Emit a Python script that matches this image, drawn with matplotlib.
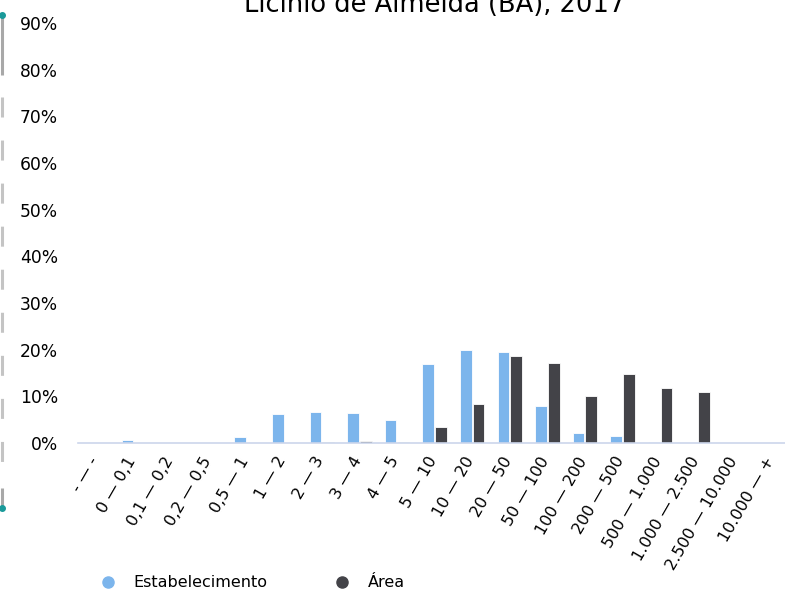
import matplotlib.pyplot as plt
import matplotlib.transforms as mtransforms
import numpy as np
from matplotlib.lines import Line2D

categorias = ["- — -", "0 — 0,1", "0,1 — 0,2", "0,2 — 0,5", "0,5 — 1", "1 — 2",
              "2 — 3", "3 — 4", "4 — 5", "5 — 10", "10 — 20", "20 — 50",
              "50 — 100", "100 — 200", "200 — 500", "500 — 1.000",
              "1.000 — 2.500", "2.500 — 10.000", "10.000 — +"]
estabelecimento = [0, 0.6, 0, 0.1, 1.2, 6.2, 6.6, 6.5, 4.9, 16.9, 20.0, 19.5,
                   7.9, 2.1, 1.4, 0.3, 0, 0, 0]
area = [0, 0, 0, 0, 0, 0, 0.2, 0.4, 0.3, 3.4, 8.3, 18.6,
        17.1, 10.0, 14.7, 11.8, 10.9, 0, 0]
yticks = [0, 10, 20, 30, 40, 50, 60, 70, 80, 90]

azul = "#7cb5ec"
escuro = "#434348"

plt.rcParams["lines.scale_dashes"] = False

W, H = 785, 590
fig = plt.figure(figsize=(W / 100, H / 100), dpi=100)
# area do grafico: x 77.6 -> 791.6 px, y 23 -> 443 px
ax = fig.add_axes([77.6 / W, 1 - 443 / H, 714 / W, 420 / H])

x = np.arange(len(categorias))
w = 0.31
ax.bar(x - w / 2 - 0.015, estabelecimento, w, color=azul, edgecolor="white", linewidth=0.6)
ax.bar(x + w / 2 + 0.015, area, w, color=escuro, edgecolor="white", linewidth=0.6)

ax.set_xlim(-0.5, len(categorias) - 0.5)
ax.set_ylim(0, 90)
ax.set_yticks(yticks)
ax.set_yticklabels([f"{v}%" for v in yticks], fontsize=12.3)
ax.set_xticks(x)
ax.set_xticklabels(categorias, rotation=60, ha="right", rotation_mode="anchor", fontsize=11.5)
ax.tick_params(axis="both", length=0)
ax.tick_params(axis="y", pad=14)
ax.tick_params(axis="x", pad=8)

# rotulos do eixo x um pouco deslocados para a esquerda, como no original
desloc = mtransforms.ScaledTranslation(-8 / 100, 0, fig.dpi_scale_trans)
for lbl in ax.get_xticklabels():
    lbl.set_transform(lbl.get_transform() + desloc)

for s in ["top", "right", "left"]:
    ax.spines[s].set_visible(False)
ax.spines["bottom"].set_color("#ccd6eb")
ax.spines["bottom"].set_linewidth(1.2)

fig.text(435 / W, 1 - 5 / H, "Licínio de Almeida (BA), 2017", ha="center", va="center", fontsize=18.5)

handles = [
    Line2D([], [], marker="o", linestyle="", color=azul, markersize=8),
    Line2D([], [], marker="o", linestyle="", color=escuro, markersize=8),
]
fig.legend(handles, ["Estabelecimento", "Área"], loc="center", bbox_to_anchor=(0.3165, 0.012),
           ncol=2, frameon=False, fontsize=11.5, columnspacing=3.7, handletextpad=0.6)

# resto do elemento cortado na margem esquerda
def fy(py):
    return 1 - py / H

fig.add_artist(Line2D([1.5 / W] * 2, [fy(15), fy(75)], transform=fig.transFigure,
                      color="#a8a8a8", linewidth=2.2, solid_capstyle="butt"))
fig.add_artist(Line2D([1.5 / W] * 2, [fy(97), fy(470)], transform=fig.transFigure,
                      color="#c4c4c4", linewidth=2.2, dashes=(14.4, 16.6), dash_capstyle="butt"))
fig.add_artist(Line2D([1.5 / W] * 2, [fy(488), fy(508)], transform=fig.transFigure,
                      color="#a8a8a8", linewidth=2.2, solid_capstyle="butt"))
for py in (15, 508):
    fig.add_artist(Line2D([1.5 / W], [fy(py)], transform=fig.transFigure,
                          marker="o", markersize=4, color="#1a9a9a", linestyle=""))

fig.savefig("out.png", dpi=100)
